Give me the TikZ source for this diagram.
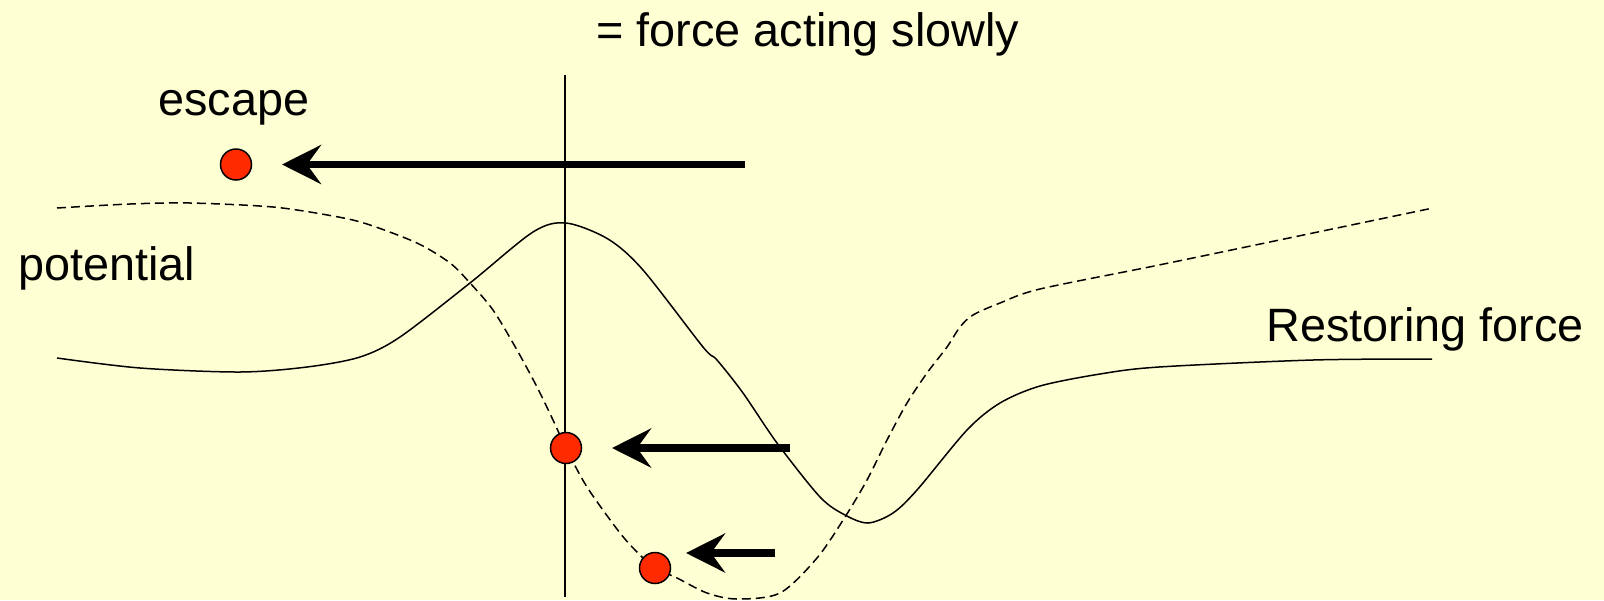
\documentclass[tikz,border=0pt]{standalone}
\usepackage{fontspec}
\setmainfont{Liberation Sans}
\usetikzlibrary{arrows.meta}
\definecolor{bgyellow}{HTML}{FFFFD4}
\definecolor{ballred}{HTML}{FF2A00}
\tikzset{
  lbl/.style={inner sep=0pt, anchor=base west, font=\fontsize{23.4}{28}\selectfont},
  ball/.style={circle, draw=black, line width=0.75pt, fill=ballred, minimum size=15.5pt, inner sep=0pt},
  force/.style={line width=3.75pt, -{Stealth[length=19.5pt,width=19.5pt,inset=7pt]}},
  thin/.style={line width=0.75pt},
  dashedcurve/.style={line width=0.75pt, dash pattern=on 4.5pt off 2.5pt}
}
\begin{document}
\begin{tikzpicture}[x=0.5pt,y=-0.5pt]
\useasboundingbox (0,0) rectangle (1604,600);
\fill[bgyellow] (0,0) rectangle (1604,600);
% vertical line
\coordinate (vtop) at (565,75);
\coordinate (vbot) at (565,597);
\draw[thin] (vtop) -- (vbot);
% solid curve
\draw[thin] plot[smooth, tension=0.5] coordinates {(57,358) (140,368) (240,372) (307,367) (360,357) (400,337) (470,283) (533,232) (566,223) (608,239) (643,270) (703,347) (717,360) (743,393) (777,443) (820,497) (845,515) (868,523) (893,513) (917,490) (967,430) (1000,403) (1040,386) (1100,374) (1159,367) (1313,360) (1432,359)};
% dashed curve
\draw[dashedcurve] plot[smooth, tension=0.5] coordinates {(57,208) (130,204) (190,203) (273,207) (333,216) (367,224) (417,243) (450,263) (470,283) (493,310) (517,350) (537,387) (553,420) (566,448) (587,487) (620,533) (640,555) (655,568) (677,578) (707,593) (737,599) (780,593) (817,558) (845,517) (867,480) (887,440) (907,403) (927,373) (947,347) (960,327) (973,315) (1000,303) (1040,289) (1159,265) (1313,233) (1433,208)};
% labels
\node[lbl] (title) at (596,46) {= force acting slowly};
\node[lbl] (escape) at (158,115) {escape};
\node[lbl] (potential) at (18,280) {potential};
\node[lbl] (restoring) at (1266,341) {Restoring force};
% balls
\node[ball] (b1) at (236,164.5) {};
\node[ball] (b2) at (566,448) {};
\node[ball] (b3) at (655,568) {};
% arrows
\coordinate (a1s) at (745,164.5);
\coordinate (a1e) at (282,164.5);
\coordinate (a2s) at (790,448);
\coordinate (a2e) at (612,448);
\coordinate (a3s) at (775,553);
\coordinate (a3e) at (686,553);
\draw[force] (a1s) -- (a1e);
\draw[force] (a2s) -- (a2e);
\draw[force] (a3s) -- (a3e);
\end{tikzpicture}
\end{document}
